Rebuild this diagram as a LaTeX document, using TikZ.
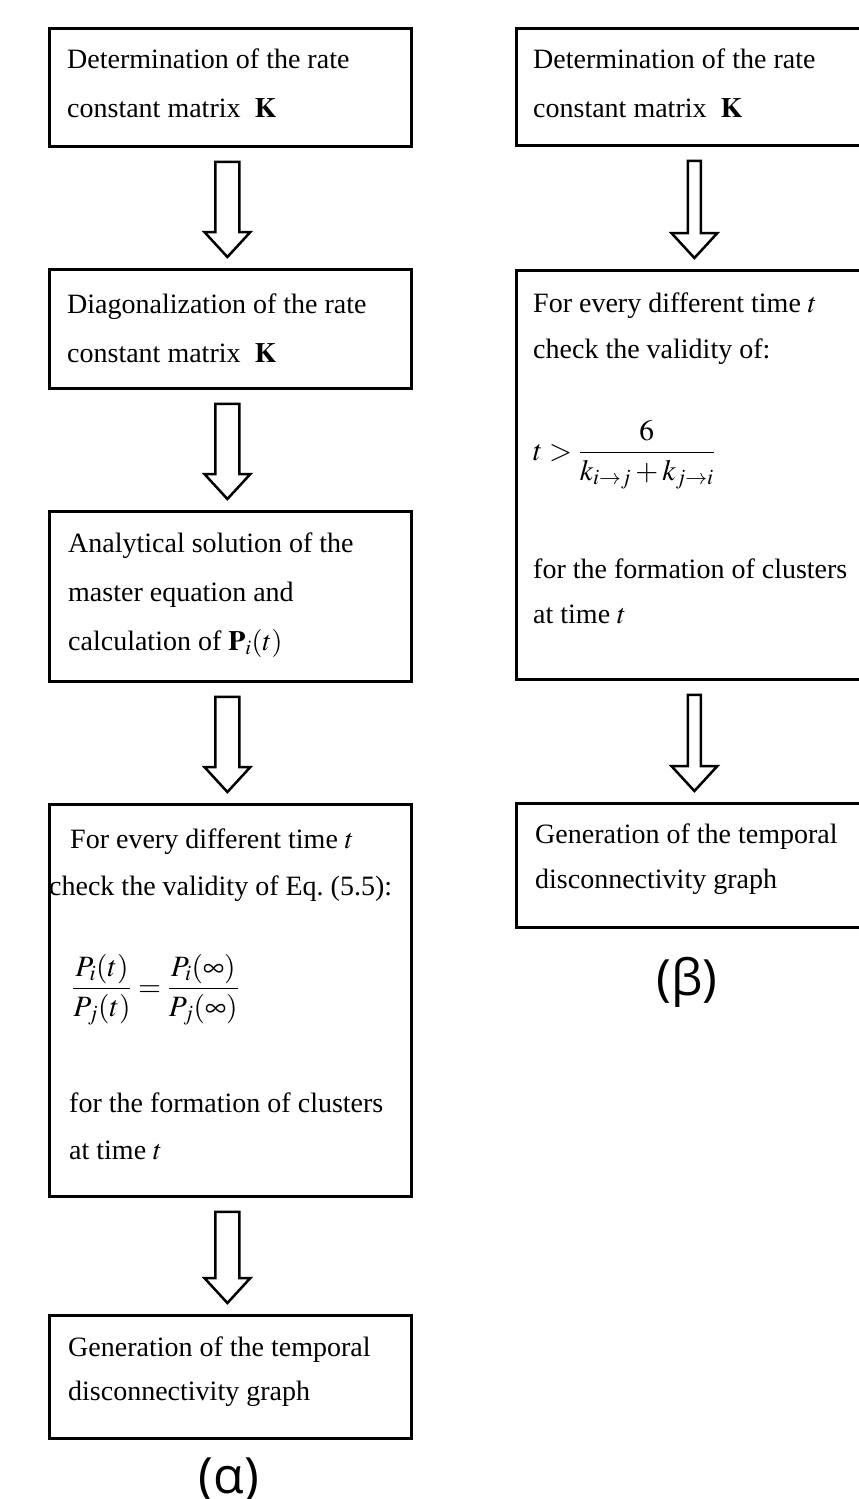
\documentclass[tikz,border=0pt]{standalone}
\usepackage{amsmath}
\usepackage{mathptmx}
\usepackage{fontspec}
\setmainfont{Liberation Serif}
\newfontfamily\lblfont{Open Sans}
\usetikzlibrary{calc}
\tikzset{
  box/.style={draw=black, line width=2.8pt, rectangle, anchor=north west, inner sep=0pt},
  txt/.style={anchor=base west, inner sep=0pt, font=\fontsize{28}{34}\selectfont},
  eqn/.style={anchor=base west, inner sep=0pt, font=\fontsize{29.5}{36}\selectfont},
  blockarr/.style={draw=black, fill=white, line width=2.5pt, line join=miter},
  lbl/.style={font=\lblfont\fontsize{50}{60}\selectfont, inner sep=0pt}
}
% #1 from node, #2 to node, #3 x shift, #4 shaft half width, #5 head half width
\newcommand{\blockarrow}[5]{%
  \draw[blockarr] let \p1=($(#1.south)+(#3,0)$), \p2=(#2.north) in
    ({\x1-#4pt},{\y1-14pt}) -- ({\x1+#4pt},{\y1-14pt}) -- ({\x1+#4pt},{\y2+36pt})
    -- ({\x1+#5pt},{\y2+36pt}) -- (\x1,{\y2+11pt}) -- ({\x1-#5pt},{\y2+36pt})
    -- ({\x1-#4pt},{\y2+36pt}) -- cycle;}
\begin{document}
\begin{tikzpicture}[x=1pt,y=-1pt]
\useasboundingbox (0,0) rectangle (859,1499);
\clip (0,0) rectangle (859,1499);
\fill[white] (0,0) rectangle (859,1499);

% left column boxes
\node[box, minimum width=362, minimum height=118] (L1) at (48,27) {};
\node[box, minimum width=362, minimum height=119] (L2) at (48,268) {};
\node[box, minimum width=362, minimum height=170] (L3) at (48,510) {};
\node[box, minimum width=362, minimum height=392] (L4) at (48,803) {};
\node[box, minimum width=362, minimum height=123] (L5) at (48,1314) {};
% right column boxes
\node[box, minimum width=360, minimum height=117] (R1) at (515,27) {};
\node[box, minimum width=360, minimum height=409] (R2) at (515,269) {};
\node[box, minimum width=360, minimum height=124] (R3) at (515,802) {};

% left texts
\node[txt] (L1a) at (67,68) {Determination of the rate};
\node[txt] (L1b) at (67,117) {constant matrix\ \ $\mathbf{K}$};
\node[txt] (L2a) at (67,313) {Diagonalization of the rate};
\node[txt] (L2b) at (67,362) {constant matrix\ \ $\mathbf{K}$};
\node[txt] (L3a) at (68,552) {Analytical solution of the};
\node[txt] (L3b) at (68,601) {master equation and};
\node[txt] (L3c) at (68,650) {calculation of\ $\mathbf{P}_i(t)$};
\node[txt] (L4a) at (70,848) {For every different time\ $t$};
\node[txt] (L4b) at (49,895) {check the validity of Eq.\ (5.5):};
\node[eqn] (L4e) at (72,996) {$\dfrac{P_i(t)}{P_j(t)}=\dfrac{P_i(\infty)}{P_j(\infty)}$};
\node[txt] (L4c) at (69,1112) {for the formation of clusters};
\node[txt] (L4d) at (69,1159) {at time\ $t$};
\node[txt] (L5a) at (68,1356) {Generation of the temporal};
\node[txt] (L5b) at (68,1400) {disconnectivity graph};

% right texts
\node[txt] (R1a) at (533,68) {Determination of the rate};
\node[txt] (R1b) at (533,117) {constant matrix\ \ $\mathbf{K}$};
\node[txt] (R2a) at (533,312) {For every different time\ $t$};
\node[txt] (R2b) at (533,358) {check the validity of:};
\node[eqn] (R2e) at (533,460) {$t>\dfrac{6}{k_{i\to j}+k_{j\to i}}$};
\node[txt] (R2c) at (533,578) {for the formation of clusters};
\node[txt] (R2d) at (533,623) {at time\ $t$};
\node[txt] (R3a) at (535,843) {Generation of the temporal};
\node[txt] (R3b) at (535,888) {disconnectivity graph};

% block arrows
\blockarrow{L1}{L2}{-3}{12}{23}
\blockarrow{L2}{L3}{-3}{12}{23}
\blockarrow{L3}{L4}{-3}{12}{23}
\blockarrow{L4}{L5}{-3}{12}{23}
\blockarrow{R1}{R2}{-2}{6.5}{23}
\blockarrow{R2}{R3}{-2}{6.5}{23}

% sub-figure labels
\node[lbl] (alpha) at (229,1480) {(α)};
\node[lbl] (beta) at (687,982) {(β)};
\end{tikzpicture}
\end{document}
